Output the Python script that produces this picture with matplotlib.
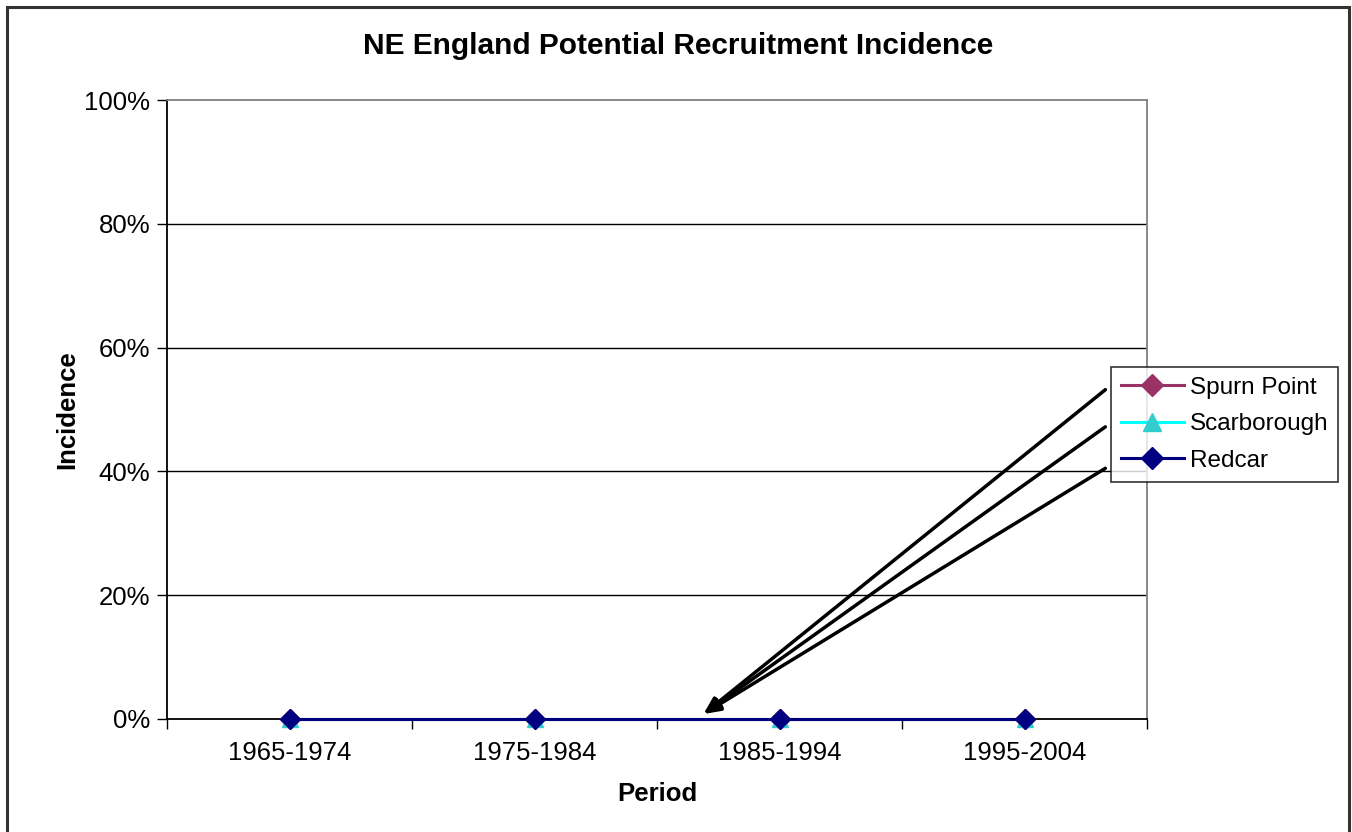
import matplotlib
matplotlib.use("Agg")
import matplotlib.pyplot as plt
from matplotlib.patches import Rectangle
from matplotlib.ticker import FuncFormatter, FixedLocator

plt.rcParams['font.family'] = ['Liberation Sans', 'DejaVu Sans']

periods = ["1965-1974", "1975-1984", "1985-1994", "1995-2004"]
spurn_point = [0, 0, 0, 0]
scarborough = [0, 0, 0, 0]
redcar = [0, 0, 0, 0]

# leader lines from the legend entries down to the flat series
leader_starts_y = [53.2, 47.2, 40.5]
leader_start_x = 3.33
leader_tip = (1.69, 0.8)

fig = plt.figure(figsize=(13.52, 8.32), dpi=100)
fig.patch.set_facecolor("white")

# outer chart frame
fig.add_artist(Rectangle((7 / 1352, -0.05), 1342 / 1352, (832 - 7) / 832 + 0.05,
                         transform=fig.transFigure, fill=False,
                         edgecolor="#333333", linewidth=2.2))

ax = fig.add_axes([167 / 1352, (832 - 719) / 832, 980 / 1352, 619 / 832])

x = list(range(len(periods)))
ax.plot(x, spurn_point, color="#993366", marker="D", markersize=10,
        linewidth=2.2, label="Spurn Point", zorder=3, clip_on=False)
ax.plot(x, scarborough, color="#00FFFF", marker="^", markersize=11,
        markerfacecolor="#33CCCC", markeredgecolor="#33CCCC",
        linewidth=2.2, label="Scarborough", zorder=4, clip_on=False)
ax.plot(x, redcar, color="#000080", marker="D", markersize=10,
        linewidth=2.2, label="Redcar", zorder=5, clip_on=False)

ax.set_xlim(-0.5, len(periods) - 0.5)
ax.set_ylim(0, 100)

ax.set_yticks([0, 20, 40, 60, 80, 100])
ax.yaxis.set_major_formatter(FuncFormatter(lambda v, p: f"{v:.0f}%"))
ax.set_xticks(x)
ax.set_xticklabels(periods)
ax.xaxis.set_minor_locator(FixedLocator([i - 0.5 for i in range(len(periods) + 1)]))
ax.tick_params(axis="x", which="major", length=0, labelsize=18.5, pad=16)
ax.tick_params(axis="x", which="minor", length=7, width=1, color="black")
ax.tick_params(axis="y", length=7, width=1, labelsize=18.5, pad=5)

for v in [20, 40, 60, 80]:
    ax.axhline(v, color="black", linewidth=1, zorder=1)

ax.spines["left"].set_color("black")
ax.spines["bottom"].set_color("black")
ax.spines["top"].set_color("#808080")
ax.spines["right"].set_color("#808080")
for s in ax.spines.values():
    s.set_linewidth(1.3)

ax.set_xlabel("Period", fontsize=18.5, fontweight="bold", labelpad=12)
ax.set_ylabel("Incidence", fontsize=18.5, fontweight="bold", labelpad=4)

fig.text(0.5015, 1 - 46 / 832, "NE England Potential Recruitment Incidence",
         ha="center", va="center", fontsize=21.5, fontweight="bold")

leg = ax.legend(loc="upper left", bbox_to_anchor=(1111 / 1352, 1 - 367 / 832),
                bbox_transform=fig.transFigure, fontsize=17.5, frameon=True,
                fancybox=False, edgecolor="black", borderpad=0.4,
                labelspacing=0.6, handlelength=2.6, handletextpad=0.25,
                borderaxespad=0, markerscale=1.15)
leg.get_frame().set_linewidth(1.2)
leg.set_zorder(10)

for y0 in leader_starts_y:
    ax.annotate("", xy=leader_tip, xytext=(leader_start_x, y0),
                arrowprops=dict(arrowstyle="-|>,head_length=1.0,head_width=0.4",
                                color="black", lw=2.5, shrinkA=0, shrinkB=0),
                annotation_clip=False, zorder=6)

fig.savefig("out.png", dpi=100, facecolor="white")
